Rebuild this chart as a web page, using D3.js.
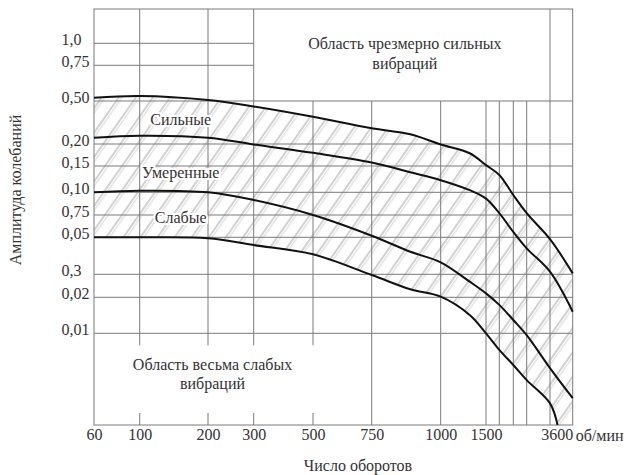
<!DOCTYPE html>
<html>
<head>
<meta charset="utf-8">
<script src="https://cdn.jsdelivr.net/npm/d3@7"></script>
</head>
<body style="margin:0">
<svg id="chart" width="632" height="475"></svg>
<script>
// speed (rpm) on x, vibration amplitude on y
const rpmTicks = [60, 100, 200, 300, 500, 750, 1000, 1500, 3600];
const rpmGrid = [100, 200, 300, 500, 750, 1000, 1500, 1800, 2000, 2500, 3000];
const rpmTopLines = [100, 200, 300, 3000];      // run up through the top box
const rpmBrokenLines = [100, 200, 300, 500];    // interrupted by the bottom box

const ampTicks = [1.0, 0.75, 0.5, 0.2, 0.15, 0.1, 0.075, 0.05, 0.03, 0.02, 0.01];
const ampLabels = ["1,0", "0,75", "0,50", "0,20", "0,15", "0,10", "0,75", "0,05", "0,3", "0,02", "0,01"];
const ampShortLines = [1.0, 0.75];

// boundary curves [rpm, amplitude]
const strongUpper = [[60, 0.523], [100, 0.535], [200, 0.507], [300, 0.462], [500, 0.39], [750, 0.31],
  [890, 0.268], [1000, 0.199], [1320, 0.179], [1500, 0.152], [1800, 0.133], [2000, 0.097],
  [2500, 0.077], [3000, 0.049], [3600, 0.0305]];
const strongLower = [[60, 0.244], [100, 0.258], [200, 0.244], [300, 0.199], [500, 0.18], [750, 0.158],
  [890, 0.138], [1000, 0.123], [1320, 0.104], [1500, 0.093], [1800, 0.077], [2000, 0.056],
  [2500, 0.044], [3000, 0.0314], [3600, 0.016]];
const moderateLower = [[60, 0.1], [100, 0.103], [200, 0.1], [300, 0.0915], [500, 0.075], [750, 0.0518],
  [890, 0.0422], [1000, 0.0365], [1320, 0.0268], [1500, 0.0217], [1800, 0.0179], [2000, 0.0137],
  [2500, 0.0099], [3000, 0.0081], [3600, 0.00646]];
const weakLower = [[60, 0.05], [100, 0.05], [200, 0.0495], [300, 0.0458], [500, 0.0408], [750, 0.0297],
  [890, 0.0235], [1000, 0.0203], [1320, 0.0151], [1500, 0.01], [1800, 0.0091], [2000, 0.00827],
  [2500, 0.00745], [3000, 0.00618], [3200, 0.005]];

const bandLabels = [["Сильные", 160, 0.33], ["Умеренные", 160, 0.128], ["Слабые", 160, 0.066]];

const margin = {top: 9, left: 94};
const width = 478.7, height = 416;
const fontFamily = '"Liberation Serif", "Times New Roman"';

const svg = d3.select("#chart");
const g = svg.append("g").attr("transform", `translate(${margin.left},${margin.top})`);

// the drawing is not on a true log grid, so the scales are piecewise
const x = d3.scaleLinear()
  .domain([60, ...rpmGrid, 3600])
  .range([0, 45.7, 114, 159.7, 219, 277.7, 346.7, 392, 405.3, 419.3, 432.7, 456, width]);
const y = d3.scaleLinear()
  .domain([1.5, ...ampTicks, 0.005])
  .range([0, 34.3, 56.3, 92, 135, 157, 183.3, 206, 228.3, 265.3, 288.3, 324.3, height]);

const curve = d3.curveCatmullRom.alpha(0.5);
const line = d3.line().x(d => x(d[0])).y(d => y(d[1])).curve(curve);

// hatching between the top and bottom boundary
const defs = svg.append("defs");
const pat = defs.append("pattern")
  .attr("id", "hatch")
  .attr("patternUnits", "userSpaceOnUse")
  .attr("width", 14).attr("height", 14)
  .attr("patternTransform", "rotate(35)");
pat.append("line").attr("x1", 1).attr("x2", 1).attr("y1", 0).attr("y2", 14)
  .attr("stroke", "#9a9a9a").attr("stroke-width", 0.9);
pat.append("line").attr("x1", 3.8).attr("x2", 3.8).attr("y1", 0).attr("y2", 14)
  .attr("stroke", "#c8c8c8").attr("stroke-width", 0.8);

defs.append("clipPath").attr("id", "belowTop").append("path")
  .attr("d", d3.area().x(d => x(d[0])).y0(height).y1(d => y(d[1])).curve(curve)(strongUpper));
const cpBottom = defs.append("clipPath").attr("id", "aboveBottom");
cpBottom.append("path")
  .attr("d", d3.area().x(d => x(d[0])).y0(0).y1(d => y(d[1])).curve(curve)(weakLower));
cpBottom.append("rect")
  .attr("x", x(weakLower[weakLower.length - 1][0]) - 0.5).attr("y", 0)
  .attr("width", width - x(weakLower[weakLower.length - 1][0]) + 0.5).attr("height", height);

g.append("g").attr("clip-path", "url(#belowTop)")
  .append("g").attr("clip-path", "url(#aboveBottom)")
  .append("rect").attr("width", width).attr("height", height).attr("fill", "url(#hatch)");

// grid
const gridColor = "#7a7a7a";
g.selectAll(".hgrid")
  .data(ampTicks)
  .join("line")
  .attr("class", "hgrid")
  .attr("x1", 0)
  .attr("x2", d => ampShortLines.includes(d) ? x(300) : width)
  .attr("y1", d => y(d)).attr("y2", d => y(d))
  .attr("stroke", gridColor).attr("stroke-width", 1);

const vSegments = [];
rpmGrid.forEach(r => {
  const top = rpmTopLines.includes(r) ? 0 : y(0.5);
  if (rpmBrokenLines.includes(r)) {
    vSegments.push([r, top, y(0.01) + 12]);
    vSegments.push([r, height - 12, height]);
  } else {
    vSegments.push([r, top, height]);
  }
});
g.selectAll(".vgrid")
  .data(vSegments)
  .join("line")
  .attr("class", "vgrid")
  .attr("x1", d => x(d[0])).attr("x2", d => x(d[0]))
  .attr("y1", d => d[1]).attr("y2", d => d[2])
  .attr("stroke", gridColor).attr("stroke-width", 1);

g.append("rect")
  .attr("width", width).attr("height", height)
  .attr("fill", "none").attr("stroke", gridColor).attr("stroke-width", 1);

// boundary curves
g.selectAll(".boundary")
  .data([strongUpper, strongLower, moderateLower, weakLower])
  .join("path")
  .attr("class", "boundary")
  .attr("d", line)
  .attr("fill", "none")
  .attr("stroke", "#111")
  .attr("stroke-width", 2);

// labels
const textColor = "#333";
g.selectAll(".band")
  .data(bandLabels)
  .join("text")
  .attr("class", "band")
  .attr("x", d => x(d[1]))
  .attr("y", d => y(d[2]))
  .attr("text-anchor", "middle")
  .attr("font-size", 16)
  .attr("fill", textColor)
  .attr("stroke", "#fff").attr("stroke-width", 4).attr("paint-order", "stroke")
  .text(d => d[0]);

const topBox = g.append("text")
  .attr("text-anchor", "middle").attr("font-size", 16).attr("fill", textColor)
  .attr("transform", `translate(${(x(300) + x(3000)) / 2 + 3},40)`);
topBox.append("tspan").attr("x", 0).attr("dy", 0).text("Область чрезмерно сильных");
topBox.append("tspan").attr("x", 0).attr("dy", 20).text("вибраций");

const bottomBox = g.append("text")
  .attr("text-anchor", "middle").attr("font-size", 16).attr("fill", textColor)
  .attr("transform", `translate(${x(500) / 2 + 9},361)`);
bottomBox.append("tspan").attr("x", 0).attr("dy", 0).text("Область весьма слабых");
bottomBox.append("tspan").attr("x", 0).attr("dy", 19).text("вибраций");

// x tick labels
const xAxis = g.append("g")
  .attr("transform", `translate(0,${height})`)
  .call(d3.axisBottom(x).tickValues(rpmTicks).tickSize(0).tickPadding(4).tickFormat(d3.format("d")));
xAxis.select(".domain").remove();
xAxis.attr("font-size", 16);
xAxis.selectAll("text").attr("fill", textColor);
xAxis.selectAll(".tick").filter(d => d === 3600).select("text").attr("text-anchor", "end");

g.append("text")
  .attr("x", width + 3).attr("y", height + 15.5)
  .attr("font-size", 16).attr("fill", textColor)
  .text("об/мин");

// y tick labels
g.selectAll(".ylab")
  .data(ampTicks)
  .join("text")
  .attr("class", "ylab")
  .attr("x", 61.5 - margin.left)
  .attr("y", d => y(d) + 2)
  .attr("font-size", 16)
  .attr("fill", textColor)
  .text((d, i) => ampLabels[i]);

// axis titles
svg.append("text")
  .attr("x", 358).attr("y", 471)
  .attr("text-anchor", "middle").attr("font-size", 16).attr("fill", textColor)
  .text("Число оборотов");

svg.append("text")
  .attr("transform", "translate(21,190) rotate(-90)")
  .attr("text-anchor", "middle").attr("font-size", 16).attr("fill", textColor)
  .text("Амплитуда колебаний");

// serif face set on each text node
svg.selectAll("text")
  .attr("font-family", fontFamily)
  .style("font-family", fontFamily);
</script>
</body>
</html>
